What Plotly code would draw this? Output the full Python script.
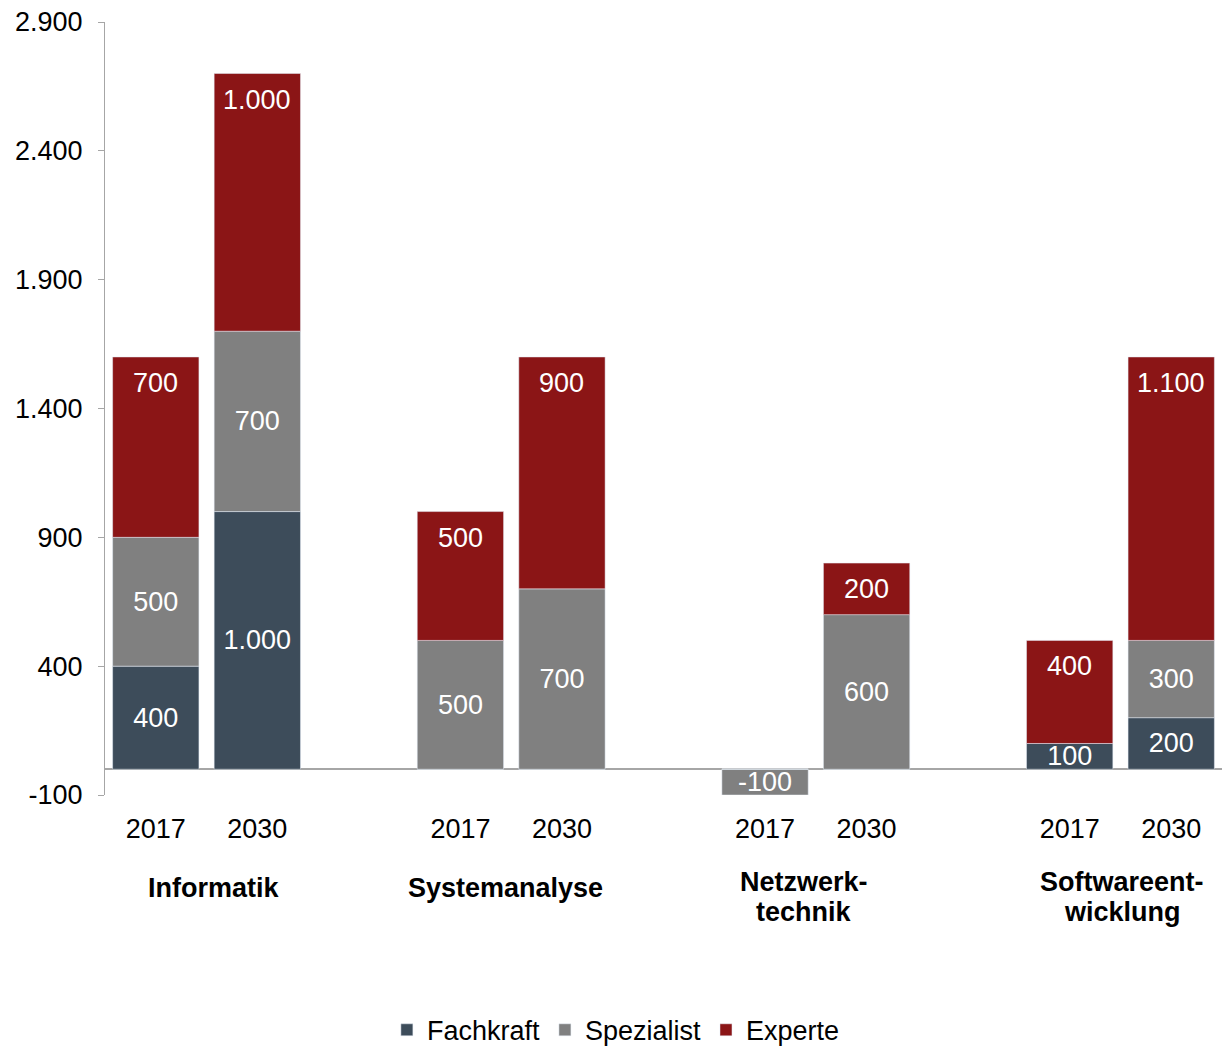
import plotly.graph_objects as go

# Bar slots: two years per occupation group, with an empty slot between groups
positions = [0, 1, 3, 4, 6, 7, 9, 10]
years = ["2017", "2030", "2017", "2030", "2017", "2030", "2017", "2030"]

groups = ["Informatik", "Systemanalyse", "Netzwerk-<br>technik", "Softwareent-<br>wicklung"]
group_x = [0.57, 3.44, 6.38, 9.52]

fachkraft = [400, 1000, 0, 0, 0, 0, 100, 200]
spezialist = [500, 700, 500, 700, -100, 600, 0, 300]
experte = [700, 1000, 500, 900, 0, 200, 400, 1100]

y_tickvals = [-100, 400, 900, 1400, 1900, 2400, 2900]
y_ticktext = ["-100", "400", "900", "1.400", "1.900", "2.400", "2.900"]

FONT = "Liberation Sans, Arial, sans-serif"
C_FACH = "#3D4C5A"
C_SPEZ = "#808080"
C_EXP = "#8B1516"


def fmt(v):
    return f"{v:,}".replace(",", ".")


def labels(vals):
    return [fmt(v) if v != 0 else "" for v in vals]


fig = go.Figure()

fig.add_trace(go.Bar(
    x=positions, y=fachkraft, name="Fachkraft", marker_color=C_FACH,
    text=labels(fachkraft), textposition="inside", insidetextanchor="middle",
    constraintext="none", textfont=dict(color="white", size=27, family=FONT),
    width=0.85,
))
fig.add_trace(go.Bar(
    x=positions, y=spezialist, name="Spezialist", marker_color=C_SPEZ,
    text=labels(spezialist), textposition="inside", insidetextanchor="middle",
    constraintext="none", textfont=dict(color="white", size=27, family=FONT),
    width=0.85,
))
fig.add_trace(go.Bar(
    x=positions, y=experte, name="Experte", marker_color=C_EXP,
    textposition="none", width=0.85,
))

# Experte values sit near the top of each stacked column
for x, f, s, e in zip(positions, fachkraft, spezialist, experte):
    if e == 0:
        continue
    top = max(f, 0) + max(s, 0) + e
    fig.add_annotation(
        x=x, y=top, xref="x", yref="y", text=fmt(e), showarrow=False,
        yshift=-26, yanchor="middle",
        font=dict(color="white", size=27, family=FONT),
    )

# Occupation group names below the year labels (one annotation per line)
for gx, g in zip(group_x, groups):
    lines = g.split("<br>")
    if len(lines) == 1:
        shifts = [-93]
    else:
        shifts = [-87, -117]
    for line, sh in zip(lines, shifts):
        fig.add_annotation(
            x=gx, y=0, xref="x", yref="paper", text=f"<b>{line}</b>", showarrow=False,
            yshift=sh, yanchor="middle", align="center",
            font=dict(color="black", size=27, family=FONT),
        )

fig.update_layout(
    barmode="relative",
    width=1222, height=1047,
    margin=dict(l=105, r=0, t=22, b=252),
    paper_bgcolor="white", plot_bgcolor="white",
    font=dict(family=FONT, size=27, color="black"),
    showlegend=True,
    legend=dict(
        orientation="h", xref="container", yref="container",
        x=0.504, xanchor="center", y=0.016, yanchor="middle",
        font=dict(size=27, family=FONT, color="black"),
        itemclick=False,
    ),
    xaxis=dict(
        range=[-0.5, 10.5], tickvals=positions, ticktext=years,
        showline=False, showgrid=False, zeroline=False, ticks="",
        ticklabelstandoff=15,
        tickfont=dict(size=27, family=FONT, color="black"),
    ),
    yaxis=dict(
        range=[-100, 2900], tickvals=y_tickvals, ticktext=y_ticktext,
        showline=True, linecolor="#A6A6A6", linewidth=1,
        ticks="outside", ticklen=6, tickcolor="#A6A6A6",
        showgrid=False, zeroline=True, zerolinecolor="#A6A6A6", zerolinewidth=1.5,
        ticklabelstandoff=10,
        tickfont=dict(size=27, family=FONT, color="black"),
    ),
)

fig.write_html("out.html")
